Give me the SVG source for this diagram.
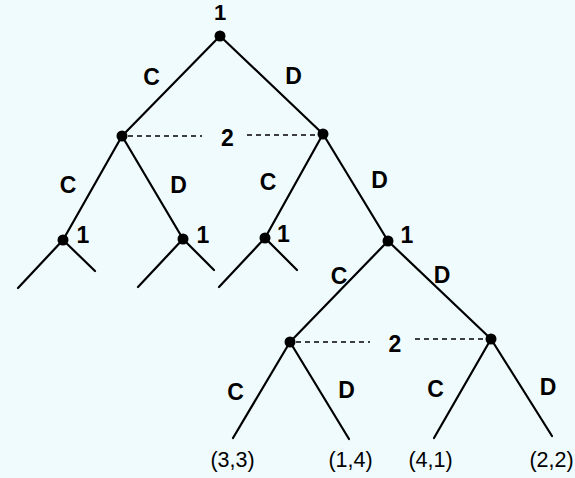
<svg xmlns="http://www.w3.org/2000/svg" width="575" height="478" viewBox="0 0 575 478">
<style>
.e{stroke:#000;stroke-width:2.2;fill:none;stroke-linecap:round}
.d{stroke:#000;stroke-width:1.6;fill:none;stroke-dasharray:5,4}
.n{fill:#000}
.l{font-family:"Liberation Sans",Arial,sans-serif;font-size:23px;font-weight:bold;text-anchor:middle;fill:#000}
.p{font-family:"Liberation Sans",Arial,sans-serif;font-size:21.5px;text-anchor:middle;fill:#000}
</style>
<rect width="575" height="478" fill="#f0fbfd"/>
<g id="connectors">
<line class="e" x1="220" y1="36" x2="122" y2="136"/>
<line class="e" x1="220" y1="36" x2="323" y2="134"/>
<line class="e" x1="122" y1="136" x2="63" y2="240"/>
<line class="e" x1="122" y1="136" x2="183" y2="239"/>
<line class="e" x1="323" y1="134" x2="265" y2="238"/>
<line class="e" x1="323" y1="134" x2="388" y2="241"/>
<line class="e" x1="63" y1="240" x2="18" y2="288"/>
<line class="e" x1="63" y1="240" x2="95" y2="271"/>
<line class="e" x1="183" y1="239" x2="138" y2="287"/>
<line class="e" x1="183" y1="239" x2="214" y2="270"/>
<line class="e" x1="265" y1="238" x2="219" y2="287"/>
<line class="e" x1="265" y1="238" x2="297" y2="270"/>
<line class="e" x1="388" y1="241" x2="290" y2="342"/>
<line class="e" x1="388" y1="241" x2="491" y2="339"/>
<line class="e" x1="290" y1="342" x2="233" y2="438"/>
<line class="e" x1="290" y1="342" x2="349" y2="439"/>
<line class="e" x1="491" y1="339" x2="434" y2="438"/>
<line class="e" x1="491" y1="339" x2="552" y2="436"/>
<line class="d" x1="128" y1="136" x2="202" y2="136"/>
<line class="d" x1="247" y1="135" x2="318" y2="135"/>
<line class="d" x1="296" y1="342" x2="370" y2="342"/>
<line class="d" x1="415" y1="339" x2="486" y2="339"/>
</g>
<g id="n0"><circle class="n" cx="220" cy="36" r="5.5"/><text class="l" x="220" y="20" style="font-size:22px">1</text></g>
<g id="n1"><circle class="n" cx="122" cy="136" r="5.5"/></g>
<g id="n2"><circle class="n" cx="323" cy="134" r="5.5"/></g>
<g id="info2a"><text class="l" x="227.5" y="146">2</text></g>
<g id="n3"><circle class="n" cx="63" cy="240" r="5.5"/><text class="l" x="83" y="243">1</text></g>
<g id="n4"><circle class="n" cx="183" cy="239" r="5.5"/><text class="l" x="203" y="243">1</text></g>
<g id="n5"><circle class="n" cx="265" cy="238" r="5.5"/><text class="l" x="283.5" y="242">1</text></g>
<g id="n6"><circle class="n" cx="388" cy="241" r="5.5"/><text class="l" x="407" y="243">1</text></g>
<g id="n7"><circle class="n" cx="290" cy="342" r="5.5"/></g>
<g id="n8"><circle class="n" cx="491" cy="339" r="5.5"/></g>
<g id="info2b"><text class="l" x="395" y="352">2</text></g>
<g id="edge-labels">
<text class="l" x="151.5" y="85">C</text>
<text class="l" x="293.5" y="84">D</text>
<text class="l" x="68" y="193">C</text>
<text class="l" x="178.5" y="193">D</text>
<text class="l" x="268" y="190">C</text>
<text class="l" x="379.5" y="188">D</text>
<text class="l" x="339" y="284">C</text>
<text class="l" x="442" y="283">D</text>
<text class="l" x="235.5" y="400">C</text>
<text class="l" x="346.5" y="398">D</text>
<text class="l" x="435.5" y="397">C</text>
<text class="l" x="548" y="395">D</text>
</g>
<g id="leaves">
<text class="p" x="232.5" y="467">(3,3)</text>
<text class="p" x="350.5" y="467">(1,4)</text>
<text class="p" x="430.5" y="467">(4,1)</text>
<text class="p" x="551.5" y="467">(2,2)</text>
</g>
</svg>
